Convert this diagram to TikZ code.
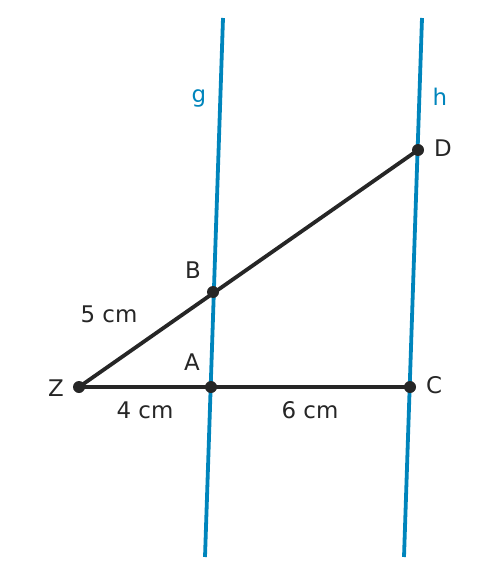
\documentclass[tikz,border=0pt]{standalone}
\usepackage{fontspec}
\setmainfont{DejaVu Sans}
\usetikzlibrary{positioning}
\definecolor{lineblue}{RGB}{0,133,188}
\definecolor{darkline}{RGB}{38,38,38}

\begin{document}
\begin{tikzpicture}[x=1bp,y=-1bp,
                    line width=3.8bp,
                    pt node/.style={circle,fill=darkline,inner sep=0pt,minimum size=12bp},
                    lbl/.style={text=darkline,font=\fontsize{23}{27}\selectfont},
                    par line/.style={draw=lineblue,line width=3.8bp}]
  \useasboundingbox (0,0) rectangle (492,576);
  % parallel lines g and h
  \coordinate (g1) at (223,18);
  \coordinate (g2) at (205,557);
  \coordinate (h1) at (422,18);
  \coordinate (h2) at (404,557);
  \path[par line] (g1) -- (g2);
  \path[par line] (h1) -- (h2);

  % points
  \coordinate (Z) at (79,387);
  \coordinate (A) at (211,387);
  \coordinate (C) at (410,387);
  \coordinate (B) at (213,292);
  \coordinate (D) at (418,150);

  \draw[darkline] (Z) -- (D);
  \draw[darkline] (Z) -- (C);

  \foreach \p in {Z,A,C,B,D}
    \node[pt node] at (\p) {};

  % labels
  \node[lbl,text=lineblue] (lg) at (199,98) {g};
  \node[lbl,text=lineblue] (lh) at (440,97) {h};
  \node[lbl] (lD) at (443,148) {D};
  \node[lbl] (lB) at (193,270) {B};
  \node[lbl] (lA) at (192,362) {A};
  \node[lbl] (lZ) at (56,388) {Z};
  \node[lbl] (lC) at (434,385) {C};
  \node[lbl] (l5) at (109,314) {5 cm};
  \node[lbl] (l4) at (145,410) {4 cm};
  \node[lbl] (l6) at (310,410) {6 cm};
\end{tikzpicture}
\end{document}
